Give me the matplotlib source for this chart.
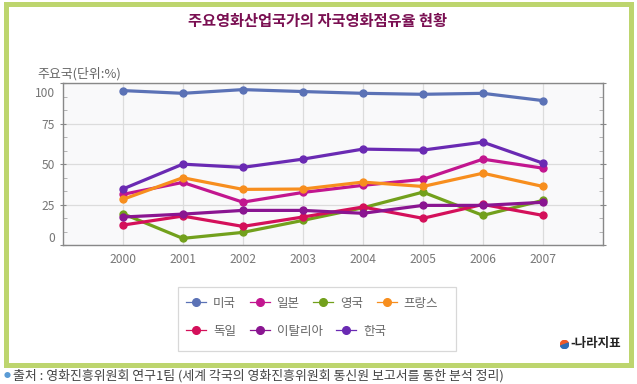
import matplotlib
matplotlib.use("Agg")
import matplotlib.pyplot as plt
from matplotlib.ticker import MultipleLocator
from matplotlib.transforms import ScaledTranslation
from matplotlib.patches import Rectangle, Wedge
from matplotlib.lines import Line2D

plt.rcParams["font.family"] = ["Noto Sans CJK KR", "DejaVu Sans"]

# DATA
YEARS = [2000, 2001, 2002, 2003, 2004, 2005, 2006, 2007]
COUNTRIES = ["미국", "일본", "영국", "프랑스", "독일", "이탈리아", "한국"]
USA = [95.5, 93.8, 96.1, 94.9, 93.8, 93.2, 93.8, 89.3]
JAPAN = [31.3, 38.7, 26.5, 32.5, 36.9, 40.6, 53.1, 47.5]
UK = [19.4, 4.1, 7.8, 15.2, 23.0, 32.7, 18.3, 27.6]
FRANCE = [28.2, 41.6, 34.4, 34.6, 38.9, 36.2, 44.4, 36.2]
GERMANY = [12.3, 17.9, 11.5, 17.3, 23.5, 16.5, 25.1, 18.3]
ITALY = [17.3, 19.1, 21.4, 21.4, 19.6, 24.5, 24.5, 26.4]
KOREA = [34.6, 50.0, 48.0, 53.1, 59.3, 58.7, 63.6, 50.6]
SERIES = [USA, JAPAN, UK, FRANCE, GERMANY, ITALY, KOREA]
Y_TICKS = [0, 25, 50, 75, 100]

TITLE = "주요영화산업국가의 자국영화점유율 현황"
UNIT_LABEL = "주요국(단위:%)"
SOURCE = "출처 : 영화진흥위원회 연구1팀 (세계 각국의 영화진흥위원회 통신원 보고서를 통한 분석 정리)"
LOGO_TEXT = "-나라지표"

# STYLE
COLOURS = ["#5b72b6", "#c2168f", "#72a01c", "#f78e1e", "#d4105a", "#8a1591", "#6a2ab3"]
BORDER_COLOUR = "#bdd56e"
TITLE_COLOUR = "#7a0f52"
TEXT_GREY = "#777777"
W, H = 637, 384


def fx(px):
    return px / W


def fy(px):
    return 1 - px / H


fig = plt.figure(figsize=(6.37, 3.84), dpi=100, facecolor="white")

# Green frame
fig.patches.append(Rectangle((fx(5.5), fy(364.5)), 625 / W, 360.5 / H,
                             transform=fig.transFigure, fill=False,
                             edgecolor=BORDER_COLOUR, linewidth=3.6))

ax = fig.add_axes([fx(62.7), fy(245), 540.3 / W, 161.7 / H])
ax.set_facecolor("#f9f9fa")

for i, (name, values) in enumerate(zip(COUNTRIES, SERIES)):
    ax.plot(YEARS, values, color=COLOURS[i], linewidth=2.3, marker="o",
            markersize=5, label=name, zorder=3)

ax.set_xlim(1999, 2008)
ax.set_ylim(0, 100)
ax.set_xticks(YEARS)
ax.set_yticks(Y_TICKS)
ax.yaxis.set_minor_locator(MultipleLocator(25 / 3))
ax.grid(True, which="major", color="#dcdcdc", linewidth=0.9, zorder=0)
ax.tick_params(axis="both", which="major", colors="#888888", labelcolor=TEXT_GREY,
               labelsize=8.7, length=4, direction="inout", right=True)
ax.tick_params(axis="y", which="minor", colors="#aaaaaa", length=3,
               direction="in", left=True, right=True)
ax.tick_params(axis="x", which="major", length=0, pad=6)
for sp in ax.spines.values():
    sp.set_color("#888888")
    sp.set_linewidth(1.0)

# End labels on y are nudged inside the plot
ylabels = ax.get_yticklabels()
ylabels[0].set_transform(ylabels[0].get_transform() + ScaledTranslation(0, 8 / 100, fig.dpi_scale_trans))
ylabels[-1].set_transform(ylabels[-1].get_transform() + ScaledTranslation(0, -9 / 100, fig.dpi_scale_trans))

# Title and unit label
fig.text(fx(318), fy(21), TITLE, ha="center", va="center",
         fontsize=11, color=TITLE_COLOUR, fontweight="bold")
fig.text(fx(37), fy(74), UNIT_LABEL, ha="left", va="center",
         fontsize=9.3, color="#666666")

# Legend: a frame with two rows that flow left to right
fig.patches.append(Rectangle((fx(178), fy(351)), 278 / W, 64 / H,
                             transform=fig.transFigure, fill=False,
                             edgecolor="#d8d8d8", linewidth=0.9))
handles = [Line2D([], [], color=COLOURS[i], linewidth=0.9, marker="o", markersize=5.5)
           for i in range(len(COUNTRIES))]
rows = [([0, 1, 2, 3], 303), ([4, 5, 6], 331)]
for idx, ypx in rows:
    leg = fig.legend([handles[i] for i in idx], [COUNTRIES[i] for i in idx],
                     ncol=len(idx), loc="center left",
                     bbox_to_anchor=(fx(186), fy(ypx)), frameon=False,
                     fontsize=9, handlelength=1.6, handletextpad=0.55,
                     columnspacing=1.1, borderpad=0, borderaxespad=0)
    for t in leg.get_texts():
        t.set_color("#666666")

# Logo
lax = fig.add_axes([fx(560), fy(349), 9 / W, 9 / H])
lax.set_aspect("equal")
lax.add_patch(Wedge((0, 0), 1, 20, 200, color="#f05a28"))
lax.add_patch(Wedge((0, 0), 1, 200, 380, color="#2f6db5"))
lax.set_xlim(-1.1, 1.1)
lax.set_ylim(-1.1, 1.1)
lax.axis("off")
fig.text(fx(570), fy(344), LOGO_TEXT, ha="left", va="center",
         fontsize=9, color="#222222", fontweight="bold")

# Source line
fig.text(fx(4), fy(376), "●", ha="left", va="center", fontsize=5, color="#5a9bd5")
fig.text(fx(13), fy(376), SOURCE, ha="left", va="center",
         fontsize=9.3, color="#444444")

fig.savefig("out.png", dpi=100, facecolor="white")
